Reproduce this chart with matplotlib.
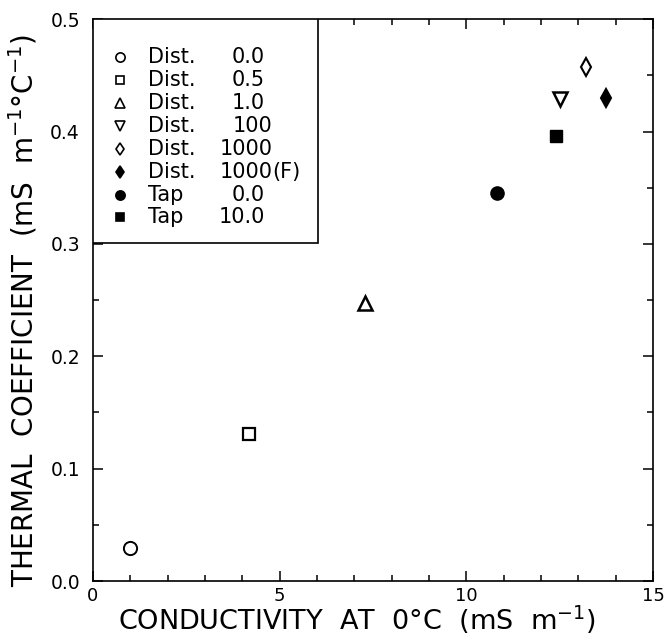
import matplotlib
matplotlib.use("Agg")
import matplotlib.pyplot as plt
from matplotlib.patches import Rectangle
from matplotlib.ticker import MultipleLocator, FormatStrFormatter

plt.rcParams['font.family'] = ['DejaVu Sans']
plt.rcParams['mathtext.default'] = 'regular'

# data
conductivity = [1.0, 4.17, 7.28, 12.5, 13.2, 13.73, 10.81, 12.41]
thermal_coef = [0.029, 0.131, 0.247, 0.429, 0.457, 0.430, 0.345, 0.396]
water = ['Dist.', 'Dist.', 'Dist.', 'Dist.', 'Dist.', 'Dist.', 'Tap', 'Tap']
amount = ['0.0', '0.5', '1.0', '100', '1000', '1000(F)', '0.0', '10.0']

markers = ['o', 's', '^', 'v', 'd', 'd', 'o', 's']
filled = [False, False, False, False, False, True, True, True]
sizes = [9.5, 9, 9.5, 9.5, 9, 9, 9.5, 9]
widths = [1.4, 1.6, 1.8, 1.8, 1.5, 1.5, 1.0, 1.0]

fig = plt.figure(figsize=(6.65, 6.38), dpi=100)
ax = fig.add_axes([0.1398, 0.0893, 0.8422, 0.8807])

for x, y, m, f, s, w in zip(conductivity, thermal_coef, markers, filled, sizes, widths):
    ax.plot([x], [y], linestyle='none', marker=m, markersize=s,
            markerfacecolor='black' if f else 'white', markeredgecolor='black',
            markeredgewidth=w, zorder=3)

ax.set_xlim(0, 15)
ax.set_ylim(0, 0.5)
ax.xaxis.set_major_locator(MultipleLocator(5))
ax.xaxis.set_minor_locator(MultipleLocator(1))
ax.yaxis.set_major_locator(MultipleLocator(0.1))
ax.yaxis.set_minor_locator(MultipleLocator(0.05))
ax.yaxis.set_major_formatter(FormatStrFormatter('%.1f'))
ax.tick_params(which='both', direction='in', top=True, right=True, width=1.1)
ax.tick_params(which='major', length=7, labelsize=13.5)
ax.tick_params(which='minor', length=4.5)
ax.tick_params(axis='y', which='major', pad=9.4)
ax.tick_params(axis='x', which='major', pad=4, labelsize=13)
for sp in ax.spines.values():
    sp.set_linewidth(1.2)

xl = ax.set_xlabel(r'CONDUCTIVITY  AT  0°C  (mS  m$^{-1}$)', fontsize=19.5)
yl = ax.set_ylabel(r'THERMAL  COEFFICIENT  (mS  m$^{-1}$°C$^{-1}$)', fontsize=20)
xl.set_va('baseline')
yl.set_va('baseline')
ax.xaxis.set_label_coords(0.4705, -0.0875)
ax.yaxis.set_label_coords(-0.107, 0.482)

# legend box, drawn by hand to keep the two text columns
ax.add_patch(Rectangle((0, 0.601), 0.402, 0.399, transform=ax.transAxes,
                       facecolor='white', edgecolor='black', linewidth=1.2, zorder=4))
row0, step = 0.932, 0.0407
for i, (m, f, s, wt, am) in enumerate(zip(markers, filled, sizes, water, amount)):
    yy = row0 - i * step
    ax.plot([0.048], [yy], transform=ax.transAxes, linestyle='none', marker=m,
            markersize=s * 0.7, markerfacecolor='black' if f else 'white',
            markeredgecolor='black', markeredgewidth=1.2, zorder=5, clip_on=False)
    ax.text(0.098, yy, wt, transform=ax.transAxes, fontsize=15, va='center',
            ha='left', zorder=5)
    main, _, rest = am.partition('(')
    xr = 0.307 if '.' in main else 0.321
    ax.text(xr, yy, main, transform=ax.transAxes, fontsize=15, va='center',
            ha='right', zorder=5)
    if rest:
        ax.text(xr, yy, '(' + rest, transform=ax.transAxes, fontsize=15,
                va='center', ha='left', zorder=5)

fig.savefig('out.png', dpi=100)
